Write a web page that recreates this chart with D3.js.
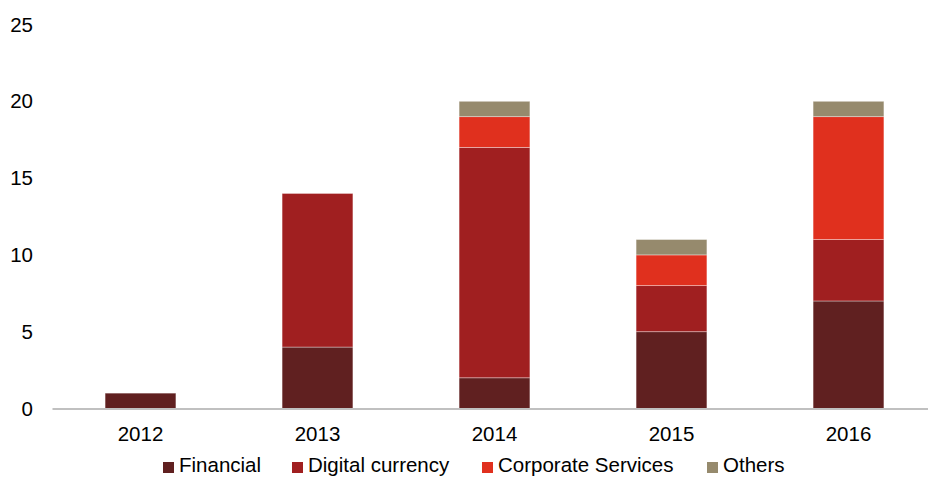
<html>
<head>
<script src="https://d3js.org/d3.v7.min.js"></script>
<style>
  body { margin: 0; background: #fff; }
  text { font-family: "Liberation Sans", Arial, sans-serif; fill: #000; }
</style>
</head>
<body>
<svg width=928 height=477></svg>
<script>
// chart values
const years = ["2012", "2013", "2014", "2015", "2016"];
const seriesNames = ["Financial", "Digital currency", "Corporate Services", "Others"];
const financial = [1, 4, 2, 5, 7];
const digital = [0, 10, 15, 3, 4];
const corporate = [0, 0, 2, 2, 8];
const others = [0, 0, 1, 1, 1];
const yTicks = [0, 5, 10, 15, 20, 25];

const colors = ["#602020", "#a01f20", "#e0301e", "#968a6d"];

const svg = d3.select("svg");

// build rows for the stack
const rows = years.map(function(y, i) {
  return { year: y, "Financial": financial[i], "Digital currency": digital[i],
           "Corporate Services": corporate[i], "Others": others[i] };
});
const stacked = d3.stack().keys(seriesNames)(rows);

const x = d3.scaleBand().domain(years).range([52, 937]).paddingInner(0.6).paddingOuter(0.3);
const y = d3.scaleLinear().domain([0, 25]).range([408.5, 24.5]);

const color = d3.scaleOrdinal().domain(seriesNames).range(colors);

// y labels
svg.append("g").selectAll("text")
  .data(yTicks)
  .enter()
  .append("text")
    .attr("x", 33)
    .attr("y", function(d) { return y(d); })
    .attr("dy", "0.35em")
    .attr("text-anchor", "end")
    .style("font-size", "20.5px")
    .text(function(d) { return d; });

// bars
svg.append("g").selectAll("g")
  .data(stacked)
  .enter()
  .append("g")
    .attr("fill", function(d) { return color(d.key); })
  .selectAll("rect")
  .data(function(d) { return d.filter(function(p) { return p[1] > p[0]; }); })
  .enter()
  .append("rect")
    .attr("x", function(d) { return x(d.data.year); })
    .attr("y", function(d) { return y(d[1]); })
    .attr("width", x.bandwidth())
    .attr("height", function(d) { return y(d[0]) - y(d[1]); })
    .attr("stroke", "#ffffff")
    .attr("stroke-opacity", 0.45)
    .attr("stroke-width", 0.8);

// x axis
const xAxis = svg.append("g")
  .attr("transform", "translate(0," + y(0) + ")")
  .call(d3.axisBottom(x).tickSize(0).tickPadding(18));
xAxis.select(".domain").attr("stroke", "#c0c0c0").attr("stroke-width", 2);
xAxis.selectAll("text")
  .style("font-size", "20.5px")
  .style("font-family", "'Liberation Sans', Arial, sans-serif")
  .attr("fill", "#000");

// legend
const legX = [163, 292, 482, 707];
const legend = svg.append("g").selectAll("g")
  .data(seriesNames)
  .enter()
  .append("g")
    .attr("transform", function(d, i) { return "translate(" + legX[i] + ",0)"; });
legend.append("rect")
  .attr("x", 0)
  .attr("y", 462)
  .attr("width", 11)
  .attr("height", 11)
  .attr("fill", function(d) { return color(d); });
legend.append("text")
  .attr("x", 16)
  .attr("y", 472)
  .style("font-size", "20.5px")
  .text(function(d) { return d; });
</script>
</body>
</html>
